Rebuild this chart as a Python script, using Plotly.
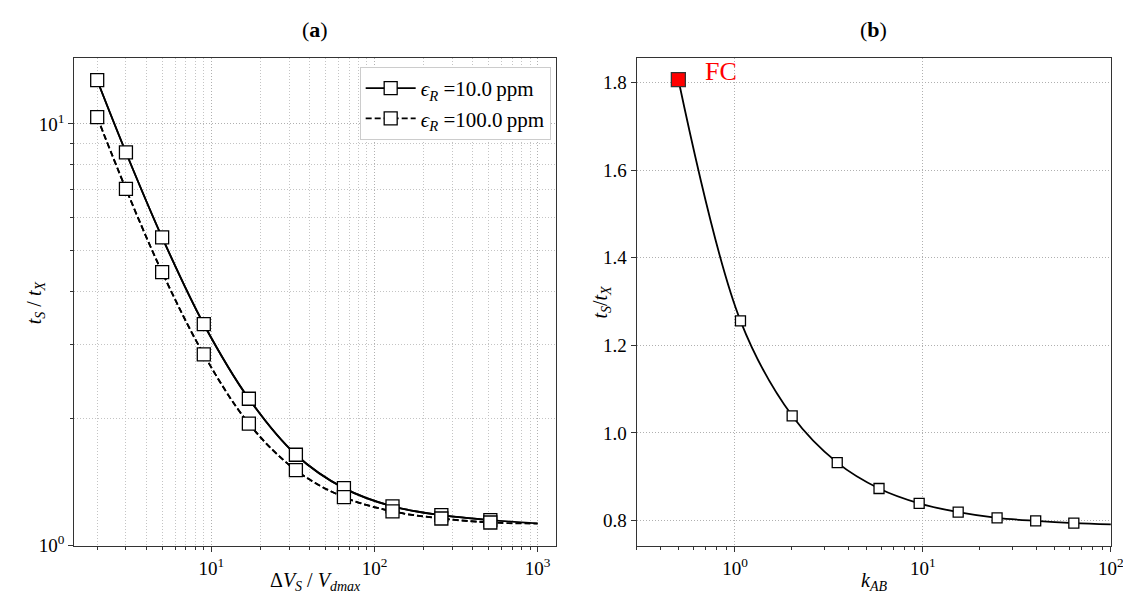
import plotly.graph_objects as go
from plotly.subplots import make_subplots

# panel (a): t_S/t_X against dV_S/V_dmax
dv_ratio = [2, 3, 5, 9, 17, 33, 65, 129, 257, 513]
ts_eps10 = [12.69, 8.56, 5.38, 3.35, 2.23, 1.643, 1.369, 1.239, 1.181, 1.150]
ts_eps100 = [10.37, 7.01, 4.45, 2.84, 1.947, 1.51, 1.303, 1.206, 1.160, 1.135]
dv_end = 1000
ts_end_eps10 = 1.130
ts_end_eps100 = 1.128

# panel (b): t_S/t_X against k_AB
k_ab = [1.07, 2.015, 3.50, 5.84, 9.55, 15.4, 24.8, 39.8, 63.5]
ts_k = [1.256, 1.039, 0.932, 0.873, 0.839, 0.819, 0.806, 0.799, 0.794]
k_fc = 0.5
ts_fc = 1.807
k_end = 100
ts_k_end = 0.791

# tick labels
ticks_a_x = [10, 100, 1000]
ticks_a_y = [1, 10]
ticks_b_x = [1, 10, 100]
pow_text = {1: "10<sup>0</sup>", 10: "10<sup>1</sup>", 100: "10<sup>2</sup>", 1000: "10<sup>3</sup>"}

FONT = "Liberation Serif"
W, H = 1131, 602

fig = make_subplots(rows=1, cols=2)

# --- (a) curves
fig.add_trace(go.Scatter(
    x=dv_ratio + [dv_end], y=ts_eps10 + [ts_end_eps10],
    mode="lines", line=dict(color="black", width=1.8, shape="spline"),
    showlegend=False, hoverinfo="skip"), row=1, col=1)
fig.add_trace(go.Scatter(
    x=dv_ratio + [dv_end], y=ts_eps100 + [ts_end_eps100],
    mode="lines", line=dict(color="black", width=1.8, shape="spline", dash="6px,3px"),
    showlegend=False, hoverinfo="skip"), row=1, col=1)
fig.add_trace(go.Scatter(
    x=dv_ratio, y=ts_eps10, mode="lines+markers",
    name="<i>ϵ<sub>R</sub></i> =10.0\u2009ppm",
    line=dict(color="black", width=1.8, shape="spline"),
    marker=dict(symbol="square", size=13, color="white",
                line=dict(color="black", width=1.3))), row=1, col=1)
fig.add_trace(go.Scatter(
    x=dv_ratio, y=ts_eps100, mode="lines+markers",
    name="<i>ϵ<sub>R</sub></i> =100.0\u2009ppm",
    line=dict(color="black", width=1.8, shape="spline", dash="6px,3px"),
    marker=dict(symbol="square", size=13, color="white",
                line=dict(color="black", width=1.3))), row=1, col=1)

# --- (b) curve
fig.add_trace(go.Scatter(
    x=[k_fc] + k_ab + [k_end], y=[ts_fc] + ts_k + [ts_k_end],
    mode="lines", line=dict(color="black", width=1.8, shape="spline"),
    showlegend=False, hoverinfo="skip"), row=1, col=2)
fig.add_trace(go.Scatter(
    x=k_ab, y=ts_k, mode="markers", showlegend=False,
    marker=dict(symbol="square", size=10, color="white",
                line=dict(color="black", width=1.3))), row=1, col=2)
fig.add_trace(go.Scatter(
    x=[k_fc], y=[ts_fc], mode="markers", showlegend=False,
    marker=dict(symbol="square", size=14, color="#ff0000",
                line=dict(color="#333", width=1.3))), row=1, col=2)

grid = dict(showgrid=True, gridcolor="#b0b0b0", griddash="1px,2px", gridwidth=1)
minor_grid = dict(ticks="outside", ticklen=3, tickcolor="#333",
                  showgrid=True, gridcolor="#c4c4c4", griddash="1px,2px")
frame = dict(showline=True, linecolor="#333", linewidth=1.2, mirror=True,
             ticks="outside", ticklen=5, tickcolor="#333", zeroline=False,
             tickfont=dict(family=FONT, size=19, color="black"))

fig.update_xaxes(type="log", range=[0.16, 3.11], tickmode="array",
                 tickvals=ticks_a_x, ticktext=[pow_text[v] for v in ticks_a_x],
                 domain=[0.0592, 0.4898], minor=dict(dtick="D1", **minor_grid),
                 **grid, **frame, row=1, col=1)
fig.update_yaxes(type="log", range=[0, 1.157], tickmode="array",
                 tickvals=ticks_a_y, ticktext=[pow_text[v] for v in ticks_a_y],
                 domain=[0.0902, 0.916], minor=dict(dtick="D1", **minor_grid),
                 **grid, **frame, row=1, col=1)

fig.update_xaxes(type="log", range=[-0.523, 2], tickmode="array",
                 tickvals=ticks_b_x, ticktext=[pow_text[v] for v in ticks_b_x],
                 domain=[0.5623, 0.9865],
                 minor=dict(dtick="D1", ticks="outside", ticklen=3, tickcolor="#333",
                            showgrid=False),
                 **grid, **frame, row=1, col=2)
fig.update_yaxes(range=[0.7424, 1.857], dtick=0.2, tickformat=".1f",
                 domain=[0.0902, 0.916],
                 **grid, **frame, row=1, col=2)

fig.add_annotation(text="FC", x=-0.17, y=1.825, xref="x2", yref="y2",
                   xanchor="left", yanchor="middle", showarrow=False,
                   font=dict(family=FONT, size=26, color="#ff0000"))

# panel titles and axis titles, placed in pixels
labels = [
    ("(<b>a</b>)", 311, 22, 0, 22),
    ("(<b>b</b>)", 876, 22, 0, 22),
    ("Δ<i>V<sub>S</sub></i> / <i>V<sub>dmax</sub></i>", 311, 584, 0, 20),
    ("<i>k<sub>AB</sub></i>", 876, 584, 0, 20),
    ("<i>t<sub>S</sub></i> / <i>t<sub>X</sub></i>", 28, 300, -90, 20),
    ("<i>t<sub>S</sub></i>/<i>t<sub>X</sub></i>", 600, 300, -90, 20),
]
for text, px_x, px_y, ang, size in labels:
    fig.add_annotation(text=text, x=px_x / W, y=1 - px_y / H, xref="paper", yref="paper",
                       xanchor="center", yanchor="middle", textangle=ang, showarrow=False,
                       font=dict(family=FONT, size=size, color="black"))

fig.update_layout(
    width=W, height=H,
    margin=dict(l=0, r=0, t=0, b=0),
    paper_bgcolor="white", plot_bgcolor="white",
    legend=dict(x=0.4854, y=0.9003, xanchor="right", yanchor="top",
                bgcolor="white", bordercolor="#cccccc", borderwidth=1,
                font=dict(family=FONT, size=21, color="black"),
                itemwidth=50, tracegroupgap=2),
)

fig.write_html("out.html")
